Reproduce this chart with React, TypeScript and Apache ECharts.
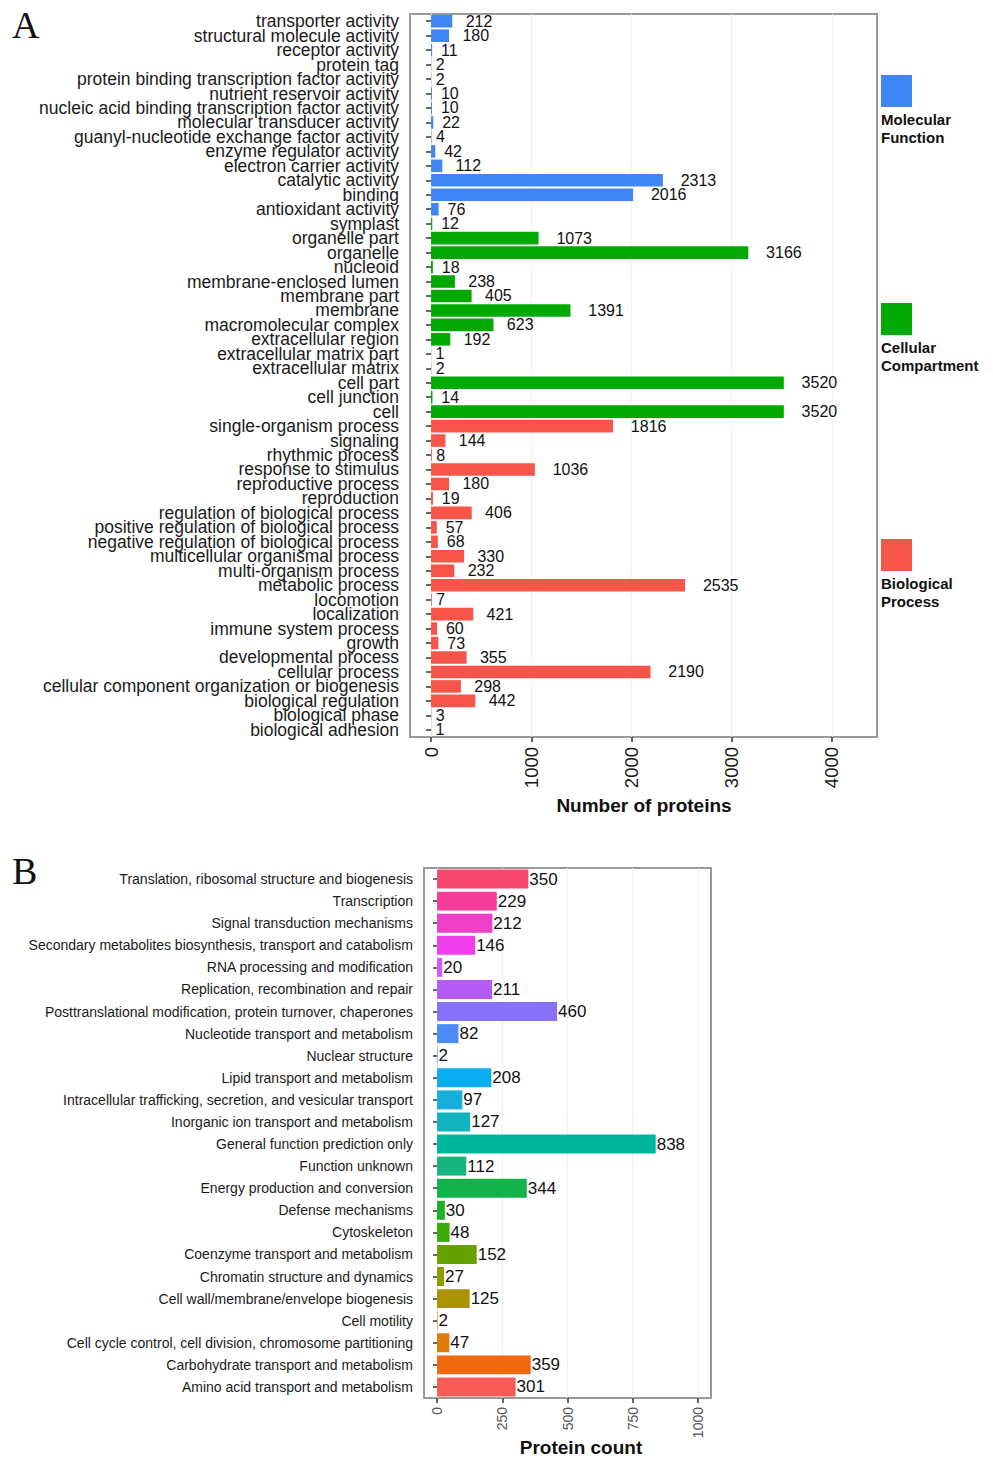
import React, { useEffect, useRef } from "react";
import * as echarts from "echarts";

// ---------- Panel A : GO annotation ----------
const mfCategories = [
  "transporter activity",
  "structural molecule activity",
  "receptor activity",
  "protein tag",
  "protein binding transcription factor activity",
  "nutrient reservoir activity",
  "nucleic acid binding transcription factor activity",
  "molecular transducer activity",
  "guanyl-nucleotide exchange factor activity",
  "enzyme regulator activity",
  "electron carrier activity",
  "catalytic activity",
  "binding",
  "antioxidant activity",
];
const mfValues = [212, 180, 11, 2, 2, 10, 10, 22, 4, 42, 112, 2313, 2016, 76];

const ccCategories = [
  "symplast",
  "organelle part",
  "organelle",
  "nucleoid",
  "membrane-enclosed lumen",
  "membrane part",
  "membrane",
  "macromolecular complex",
  "extracellular region",
  "extracellular matrix part",
  "extracellular matrix",
  "cell part",
  "cell junction",
  "cell",
];
const ccValues = [12, 1073, 3166, 18, 238, 405, 1391, 623, 192, 1, 2, 3520, 14, 3520];

const bpCategories = [
  "single-organism process",
  "signaling",
  "rhythmic process",
  "response to stimulus",
  "reproductive process",
  "reproduction",
  "regulation of biological process",
  "positive regulation of biological process",
  "negative regulation of biological process",
  "multicellular organismal process",
  "multi-organism process",
  "metabolic process",
  "locomotion",
  "localization",
  "immune system process",
  "growth",
  "developmental process",
  "cellular process",
  "cellular component organization or biogenesis",
  "biological regulation",
  "biological phase",
  "biological adhesion",
];
const bpValues = [1816, 144, 8, 1036, 180, 19, 406, 57, 68, 330, 232, 2535, 7, 421, 60, 73, 355, 2190, 298, 442, 3, 1];

const groupNames = ["Molecular\nFunction", "Cellular\nCompartment", "Biological\nProcess"];
const xTicksA = [0, 1000, 2000, 3000, 4000];

// ---------- Panel B : COG annotation ----------
const cogCategories = [
  "Translation, ribosomal structure and biogenesis",
  "Transcription",
  "Signal transduction mechanisms",
  "Secondary metabolites biosynthesis, transport and catabolism",
  "RNA processing and modification",
  "Replication, recombination and repair",
  "Posttranslational modification, protein turnover, chaperones",
  "Nucleotide transport and metabolism",
  "Nuclear structure",
  "Lipid transport and metabolism",
  "Intracellular trafficking, secretion, and vesicular transport",
  "Inorganic ion transport and metabolism",
  "General function prediction only",
  "Function unknown",
  "Energy production and conversion",
  "Defense mechanisms",
  "Cytoskeleton",
  "Coenzyme transport and metabolism",
  "Chromatin structure and dynamics",
  "Cell wall/membrane/envelope biogenesis",
  "Cell motility",
  "Cell cycle control, cell division, chromosome partitioning",
  "Carbohydrate transport and metabolism",
  "Amino acid transport and metabolism",
];
const cogValues = [350, 229, 212, 146, 20, 211, 460, 82, 2, 208, 97, 127, 838, 112, 344, 30, 48, 152, 27, 125, 2, 47, 359, 301];
const xTicksB = [0, 250, 500, 750, 1000];

// styles
const groupColors = ["#3f87f5", "#03a903", "#f8554a"];
const cogColors = [
  "#f8476e", "#f53d99", "#ee3fc8", "#f13eec", "#d858f5", "#b55cf4",
  "#8970f8", "#4c8bf5", "#3aa0f0", "#0aaef0", "#15b0dc", "#11b3be",
  "#00b79e", "#16b57e", "#12b34a", "#1db026", "#3aab0b", "#67a100",
  "#8d9c00", "#aa9200", "#c28a10", "#de7a0a", "#f0690e", "#fc5a55",
];

const SANS = "'Liberation Sans', Arial, Helvetica, sans-serif";
const SERIF = "'Liberation Serif', 'Times New Roman', serif";
const plain = (v: number) => String(v);

export default function App() {
  const ref = useRef<HTMLDivElement>(null);

  useEffect(() => {
    if (!ref.current) return;
    const chart = echarts.init(ref.current, undefined, { renderer: "svg" });

    const catsA = [...mfCategories, ...ccCategories, ...bpCategories];
    const groups = [mfValues, ccValues, bpValues];
    const offsets = [0, mfValues.length, mfValues.length + ccValues.length];

    const seriesA = groups.map((vals, g) => {
      const data: any[] = catsA.map(() => "-");
      vals.forEach((v, i) => {
        data[offsets[g] + i] = {
          value: v,
          label: { distance: String(v).length * 4.45 },
        };
      });
      return {
        type: "bar",
        name: groupNames[g],
        xAxisIndex: 0,
        yAxisIndex: 0,
        barWidth: "87%",
        barGap: "-100%",
        data,
        itemStyle: { color: groupColors[g] },
        label: {
          show: true,
          position: "right",
          fontFamily: SANS,
          fontSize: 16,
          color: "#111",
        },
      };
    });

    const seriesB = {
      type: "bar",
      xAxisIndex: 1,
      yAxisIndex: 1,
      barWidth: "86%",
      data: cogValues.map((v, i) => ({ value: v, itemStyle: { color: cogColors[i] } })),
      label: {
        show: true,
        position: "right",
        distance: 1,
        fontFamily: SANS,
        fontSize: 17,
        color: "#111",
      },
    };

    const legendGraphics: any[] = [];
    const legendTops = [75, 303, 539];
    groupNames.forEach((name, g) => {
      legendGraphics.push({
        type: "rect",
        shape: { x: 881, y: legendTops[g], width: 31, height: 32 },
        style: { fill: groupColors[g] },
      });
      legendGraphics.push({
        type: "text",
        x: 881,
        y: legendTops[g] + 35,
        style: {
          text: name,
          fontFamily: SANS,
          fontWeight: "bold",
          fontSize: 15,
          lineHeight: 18,
          fill: "#111",
          textVerticalAlign: "top",
        },
      });
    });

    const option: any = {
      animation: false,
      textStyle: { fontFamily: SANS },
      grid: [
        {
          left: 410, top: 14, width: 467, height: 723,
          show: true, borderColor: "#9a9a9a", borderWidth: 2,
          outerBoundsMode: "none", containLabel: false,
        },
        {
          left: 424, top: 868, width: 287, height: 530,
          show: true, borderColor: "#9a9a9a", borderWidth: 2,
          outerBoundsMode: "none", containLabel: false,
        },
      ],
      xAxis: [
        {
          gridIndex: 0,
          type: "value",
          min: -210,
          max: 4450,
          axisLine: { show: false },
          axisTick: { show: true, length: 5, customValues: xTicksA, lineStyle: { color: "#333", width: 1.5 } },
          axisLabel: {
            customValues: xTicksA, rotate: 90, fontSize: 18.5, margin: 10,
            color: "#1a1a1a", fontFamily: SANS, formatter: plain,
          },
          splitLine: { show: true, lineStyle: { color: "#f0f0f0" } },
        },
        {
          gridIndex: 1,
          type: "value",
          min: -50,
          max: 1050,
          axisLine: { show: false },
          axisTick: { show: true, length: 5, customValues: xTicksB, lineStyle: { color: "#333", width: 1.5 } },
          axisLabel: {
            customValues: xTicksB, rotate: 90, fontSize: 14, margin: 9,
            color: "#555", fontFamily: SANS, formatter: plain,
          },
          splitLine: { show: true, lineStyle: { color: "#f0f0f0" } },
        },
      ],
      yAxis: [
        {
          gridIndex: 0,
          type: "category",
          data: catsA,
          inverse: true,
          axisLine: { show: false },
          axisTick: { show: true, length: 5, alignWithLabel: true, lineStyle: { color: "#333", width: 1.5 } },
          axisLabel: { fontSize: 17.5, margin: 11, color: "#1a1a1a", fontFamily: SANS, interval: 0 },
          splitLine: { show: false },
        },
        {
          gridIndex: 1,
          type: "category",
          data: cogCategories,
          inverse: true,
          axisLine: { show: false },
          axisTick: { show: true, length: 4, alignWithLabel: true, lineStyle: { color: "#333", width: 1.5 } },
          axisLabel: { fontSize: 14, margin: 11, color: "#1a1a1a", fontFamily: SANS, interval: 0 },
          splitLine: { show: false },
        },
      ],
      series: [...seriesA, seriesB],
      graphic: [
        {
          type: "text", x: 12, y: 25,
          style: { text: "A", fontFamily: SERIF, fontSize: 38, fill: "#111", textVerticalAlign: "middle" },
        },
        {
          type: "text", x: 12, y: 871,
          style: { text: "B", fontFamily: SERIF, fontSize: 38, fill: "#111", textVerticalAlign: "middle" },
        },
        {
          type: "text", x: 644, y: 805,
          style: { text: "Number of proteins", fontFamily: SANS, fontWeight: "bold", fontSize: 19, fill: "#111", textAlign: "center", textVerticalAlign: "middle" },
        },
        {
          type: "text", x: 581, y: 1447,
          style: { text: "Protein count", fontFamily: SANS, fontWeight: "bold", fontSize: 19, fill: "#111", textAlign: "center", textVerticalAlign: "middle" },
        },
        ...legendGraphics,
      ],
    };

    chart.setOption(option);
    return () => chart.dispose();
  }, []);

  return (
    <div
      ref={ref}
      style={{ position: "absolute", left: 0, top: 0, width: 993, height: 1462, background: "#fff" }}
    />
  );
}
